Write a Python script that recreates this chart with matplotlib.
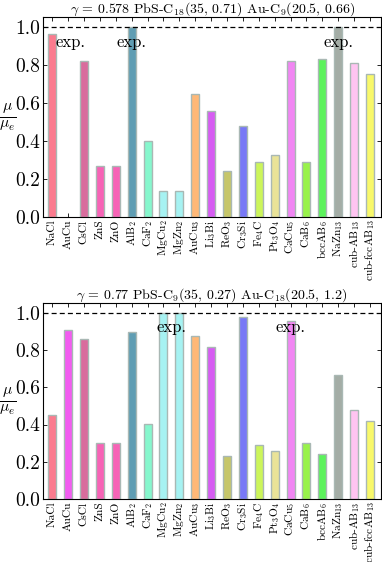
import matplotlib
matplotlib.use("Agg")
import matplotlib.pyplot as plt
import numpy as np

plt.rcParams['font.family'] = 'serif'
plt.rcParams['font.serif'] = ['cmr10', 'DejaVu Serif']
plt.rcParams['mathtext.fontset'] = 'cm'
plt.rcParams['axes.unicode_minus'] = False
plt.rcParams['axes.formatter.use_mathtext'] = True

categories = ["NaCl", "AuCu", "CsCl", "ZnS", "ZnO", r"AlB$_2$", r"CaF$_2$", r"MgCu$_2$",
              r"MgZn$_2$", r"AuCu$_3$", r"Li$_3$Bi", r"ReO$_3$", r"Cr$_3$Si", r"Fe$_4$C",
              r"Pt$_3$O$_4$", r"CaCu$_5$", r"CaB$_6$", r"bccAB$_6$", r"NaZn$_{13}$",
              r"cub-AB$_{13}$", r"cub-fccAB$_{13}$"]

colors = ["#fb7b8e", "#f25cf0", "#d96c9d", "#f763b6", "#f763b6", "#5f9db3", "#86f7cd",
          "#a6f2f2", "#a6f2f2", "#ffb877", "#d65cf2", "#c6c66a", "#7878f6", "#ccf55a",
          "#e9e398", "#f186f3", "#98f24a", "#5cf25c", "#a4ada6", "#ffc4f1", "#f8f86a"]

top_values = [0.965, 0.0, 0.82, 0.27, 0.27, 1.0, 0.40, 0.135, 0.135, 0.645, 0.56, 0.24,
              0.48, 0.29, 0.325, 0.82, 0.29, 0.83, 1.0, 0.81, 0.75]
bottom_values = [0.45, 0.91, 0.86, 0.30, 0.30, 0.895, 0.405, 1.0, 1.0, 0.875, 0.815, 0.23,
                 0.98, 0.29, 0.26, 0.955, 0.30, 0.24, 0.665, 0.48, 0.42]

top_title = r"$\gamma$ = 0.578 PbS-C$_{18}$(35, 0.71) Au-C$_9$(20.5, 0.66)"
bottom_title = r"$\gamma$ = 0.77 PbS-C$_9$(35, 0.27) Au-C$_{18}$(20.5, 1.2)"

top_exp = [(0.2, 0.92, 'left'), (5, 0.92, 'center'), (18, 0.92, 'center')]
bottom_exp = [(7.5, 0.92, 'center'), (15, 0.92, 'center')]

fig = plt.figure(figsize=(3.82, 5.62), dpi=100)
ax1 = fig.add_axes([0.1126, 0.6139, 0.885, 0.356])
ax2 = fig.add_axes([0.1126, 0.1121, 0.885, 0.3488])

x = np.arange(len(categories))
for ax, vals, title, exps in [(ax1, top_values, top_title, top_exp),
                              (ax2, bottom_values, bottom_title, bottom_exp)]:
    for i, v in enumerate(vals):
        if v > 0:
            ax.bar(x[i], v, width=0.5, color=colors[i], edgecolor="#a9b8b4", linewidth=1.0, zorder=2)
    ax.axhline(1.0, color='black', linestyle=(0, (4, 2.5)), linewidth=0.9, zorder=3)
    ax.set_xlim(-0.58, 20.7)
    ax.set_ylim(0, 1.053)
    ax.set_yticks([0.0, 0.2, 0.4, 0.6, 0.8, 1.0])
    ax.set_yticklabels(["0.0", "0.2", "0.4", "0.6", "0.8", "1.0"], fontsize=14)
    ax.set_xticks(x)
    ax.set_xticklabels(categories, rotation=90, fontsize=8.2)
    ax.tick_params(axis='x', direction='in', top=True, length=3, width=0.6, pad=2)
    ax.tick_params(axis='y', direction='in', right=True, length=3, width=0.6, pad=2)
    ax.set_title(title, fontsize=10, pad=3)
    ax.set_ylabel(r"$\frac{\mu}{\mu_e}$", fontsize=16, rotation=0, va='center', ha='center')
    ax.yaxis.set_label_coords(-0.105, 0.5)
    for (xx, yy, ha) in exps:
        ax.text(xx, yy, "exp.", fontsize=12, ha=ha, va='center', zorder=4)
    for sp in ax.spines.values():
        sp.set_linewidth(0.8)

fig.savefig("out.png", dpi=100)
